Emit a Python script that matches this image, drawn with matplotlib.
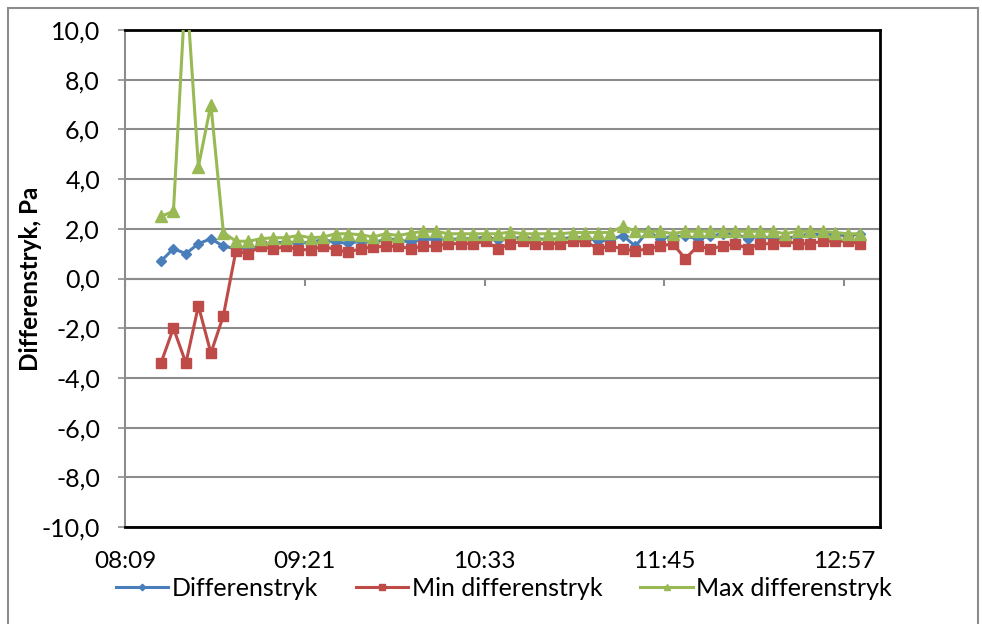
from datetime import datetime

import matplotlib.dates as mdates
import matplotlib.pyplot as plt
from matplotlib.patches import Rectangle


BLUE = "#4A7EBB"
RED = "#BE4B48"
GREEN = "#98B954"
GRID = "#8C8C8C"

TIMES = [
    "08:24", "08:29", "08:34", "08:39", "08:44", "08:49", "08:54", "08:59",
    "09:04", "09:09", "09:14", "09:19", "09:24", "09:29", "09:34", "09:39",
    "09:44", "09:49", "09:54", "09:59", "10:04", "10:09", "10:14", "10:19",
    "10:24", "10:29", "10:34", "10:39", "10:44", "10:49", "10:54", "10:59",
    "11:04", "11:09", "11:14", "11:19", "11:24", "11:29", "11:34", "11:39",
    "11:44", "11:49", "11:54", "11:59", "12:04", "12:09", "12:14", "12:19",
    "12:24", "12:29", "12:34", "12:39", "12:44", "12:49", "12:54", "12:59",
    "13:04",
]

DIFF = [
    0.7, 1.2, 1.0, 1.4, 1.6, 1.3, 1.2, 1.2, 1.3, 1.45, 1.45, 1.42, 1.46, 1.56,
    1.46, 1.42, 1.5, 1.42, 1.6, 1.56, 1.46, 1.6, 1.56, 1.56, 1.6, 1.6, 1.67,
    1.56, 1.62, 1.64, 1.6, 1.56, 1.6, 1.65, 1.65, 1.5, 1.56, 1.73, 1.3, 1.9,
    1.6, 1.7, 1.7, 1.6, 1.7, 1.8, 1.8, 1.6, 1.7, 1.6, 1.6, 1.7, 1.8, 1.75,
    1.8, 1.7, 1.8,
]

MIN_DIFF = [
    -3.4, -2.0, -3.4, -1.1, -3.0, -1.5, 1.1, 1.0, 1.3, 1.17, 1.3, 1.16, 1.16,
    1.3, 1.16, 1.06, 1.2, 1.27, 1.29, 1.3, 1.2, 1.3, 1.3, 1.4, 1.4, 1.4, 1.5,
    1.2, 1.4, 1.5, 1.4, 1.4, 1.4, 1.5, 1.5, 1.2, 1.3, 1.2, 1.1, 1.2, 1.3, 1.4,
    0.8, 1.3, 1.2, 1.3, 1.4, 1.2, 1.4, 1.4, 1.5, 1.4, 1.4, 1.5, 1.5, 1.5, 1.4,
]

MAX_DIFF = [
    2.5, 2.7, 12.0, 4.5, 7.0, 1.85, 1.5, 1.5, 1.6, 1.64, 1.64, 1.73, 1.64,
    1.67, 1.8, 1.8, 1.76, 1.67, 1.8, 1.73, 1.82, 1.9, 1.9, 1.8, 1.8, 1.8, 1.8,
    1.8, 1.87, 1.8, 1.8, 1.8, 1.8, 1.85, 1.85, 1.85, 1.85, 2.1, 1.9, 1.9, 1.9,
    1.8, 1.9, 1.9, 1.9, 1.9, 1.9, 1.9, 1.9, 1.9, 1.8, 1.9, 1.9, 1.9, 1.85,
    1.8, 1.8,
]

X_TICKS = ["08:09:36", "09:21:36", "10:33:36", "11:45:36", "12:57:36"]
X_MIN = "08:09:36"
X_MAX = "13:12:00"


def to_time(s: str) -> datetime:
    fmt = "%H:%M:%S" if s.count(":") == 2 else "%H:%M"
    return datetime.strptime("2024-01-01 " + s, "%Y-%m-%d " + fmt)


def main() -> None:
    plt.rcParams["font.family"] = ["Lato", "DejaVu Sans"]

    fig = plt.figure(figsize=(9.82, 6.24), dpi=100)
    ax = fig.add_axes([125 / 982, 1 - 527 / 624, 755 / 982, 497 / 624])

    times = [to_time(t) for t in TIMES]
    ticks = [to_time(t) for t in X_TICKS]

    ax.plot(times, DIFF, color=BLUE, lw=2.2, marker="D", ms=5.5, label="Differenstryk", zorder=3)
    ax.plot(times, MIN_DIFF, color=RED, lw=2.2, marker="s", ms=7, label="Min differenstryk", zorder=4)
    ax.plot(times, MAX_DIFF, color=GREEN, lw=2.2, marker="^", ms=8, label="Max differenstryk", zorder=5)

    ax.set_xlim(to_time(X_MIN), to_time(X_MAX))
    ax.set_ylim(-10, 10)
    ax.set_yticks(range(-10, 11, 2))
    ax.set_yticklabels([f"{v:.1f}".replace(".", ",") for v in range(-10, 11, 2)])
    ax.set_xticks(ticks)
    ax.xaxis.set_major_formatter(mdates.DateFormatter("%H:%M"))

    ax.grid(axis="y", color=GRID, lw=1.5)
    ax.set_axisbelow(True)
    ax.axhline(0, color=GRID, lw=1.5, zorder=1)
    # tick marks on the zero line, like Excel's crossing axis
    ax.vlines(ticks, -0.3, 0, color=GRID, lw=1.5, zorder=1)

    ax.tick_params(axis="x", length=0, pad=17, labelsize=17.5)
    ax.tick_params(axis="y", length=5, width=1.2, color=GRID, pad=13, labelsize=18)

    for side in ["top", "right", "bottom"]:
        ax.spines[side].set_color("black")
        ax.spines[side].set_linewidth(2)
    ax.spines["left"].set_color(GRID)
    ax.spines["left"].set_linewidth(1.5)

    ax.set_ylabel("Differenstryk, Pa", fontsize=17.5, fontweight="bold")
    ax.yaxis.set_label_coords(-83 / 755, 0.5)

    fig.legend(
        loc="center",
        bbox_to_anchor=(504 / 982, 1 - 588 / 624),
        ncol=3,
        frameon=False,
        fontsize=18,
        handlelength=2.1,
        handletextpad=0.15,
        columnspacing=1.5,
        markerscale=0.6,
    )

    fig.patches.append(
        Rectangle((8 / 982, -0.05), 970 / 982, 1.05 - 8 / 624, transform=fig.transFigure,
                  fill=False, edgecolor="#8C8C8C", lw=1.5)
    )

    fig.savefig("out.png", dpi=100)
    plt.close(fig)


if __name__ == "__main__":
    main()
